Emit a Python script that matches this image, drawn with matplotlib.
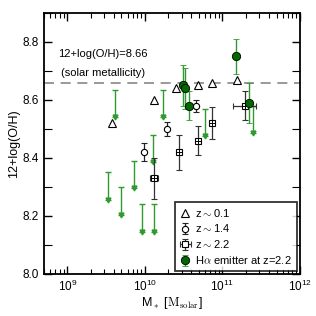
import numpy as np
import matplotlib.pyplot as plt
from matplotlib.ticker import MultipleLocator, LogLocator, NullFormatter

plt.rcParams['font.family'] = ['Liberation Sans', 'DejaVu Sans']
plt.rcParams['mathtext.fontset'] = 'cm'

SOLAR = 8.66

# z~0.1 (log M, 12+log(O/H))
z01_logm = [9.58, 10.12, 10.40, 10.68, 10.87, 11.19]
z01_oh = [8.52, 8.60, 8.64, 8.65, 8.66, 8.67]

# z~1.4
z14_logm = [9.99, 10.29, 10.66]
z14_oh = [8.42, 8.50, 8.58]
z14_err = [0.03, 0.025, 0.02]

# z~2.2
z22_logm = [10.12, 10.44, 10.68, 10.87, 11.29]
z22_oh = [8.33, 8.42, 8.46, 8.52, 8.58]
z22_yerr = [0.07, 0.06, 0.05, 0.055, 0.05]
z22_xerr = [0.05, 0.0, 0.0, 0.0, 0.15]

# H-alpha emitters at z=2.2
ha_logm = [10.49, 10.52, 10.57, 11.18, 11.35]
ha_oh = [8.65, 8.64, 8.58, 8.75, 8.59]
ha_err = [0.07, 0.07, 0.05, 0.06, 0.07]

# upper limits
ul_logm = [9.52, 9.62, 9.69, 9.86, 9.96, 10.10, 10.12, 10.23, 10.78, 11.40]
ul_oh = [8.35, 8.635, 8.30, 8.39, 8.24, 8.48, 8.24, 8.635, 8.57, 8.58]
ARROW = 0.095

green_bar = '#2f9a2f'
green_fill = '#006a00'

fig = plt.figure(figsize=(3.16, 3.16), dpi=100)
ax = fig.add_axes([0.139, 0.133, 0.81, 0.826])

ax.axhline(SOLAR, color='#888888', ls=(0, (6, 4)), lw=1.2, zorder=1)

# upper limits
ulm = 10 ** np.array(ul_logm)
ulo = np.array(ul_oh)
ax.errorbar(ulm, ulo, yerr=[np.full(len(ulo), ARROW), np.zeros(len(ulo))],
            fmt='none', ecolor=green_bar, elinewidth=1.0, capsize=2.5, capthick=1.0, zorder=2)
ax.plot(ulm, ulo - ARROW, 'v', color=green_bar, ms=3.5, ls='none', zorder=2)

ax.errorbar(10 ** np.array(z01_logm), z01_oh, fmt='^', mfc='white', mec='black',
            ms=5.5, mew=0.8, ls='none', zorder=3, label=r'z$\sim$0.1')
ax.errorbar(10 ** np.array(z14_logm), z14_oh, yerr=z14_err, fmt='o', mfc='white', mec='black',
            ecolor='#222222', ms=4.5, mew=0.8, elinewidth=0.9, capsize=2, zorder=3,
            label=r'z$\sim$1.4')

z22m = 10 ** np.array(z22_logm)
xe = np.array(z22_xerr)
ax.errorbar(z22m, z22_oh, yerr=z22_yerr,
            xerr=[z22m - z22m / 10 ** xe, z22m * 10 ** xe - z22m],
            fmt='s', mfc='white', mec='black', ecolor='#333333', ms=5, mew=0.8,
            elinewidth=0.9, capsize=2, zorder=3, label=r'z$\sim$2.2')
ax.plot(z22m, z22_oh, '+', color='black', ms=5, mew=0.7, ls='none', zorder=4)

ax.errorbar(10 ** np.array(ha_logm), ha_oh, yerr=ha_err, fmt='o', mfc=green_fill, mec='black',
            ecolor=green_bar, ms=6, mew=0.6, elinewidth=1.0, capsize=2.5, zorder=5,
            label=r'H$\alpha$ emitter at z=2.2')

ax.text(2.9e9, 8.757, '12+log(O/H)=8.66', ha='center', va='center', fontsize=8)
ax.text(2.9e9, 8.692, '(solar metallicity)', ha='center', va='center', fontsize=8)

ax.set_xscale('log')
ax.set_xlim(5e8, 1e12)
ax.set_ylim(8.0, 8.9)
ax.yaxis.set_major_locator(MultipleLocator(0.2))
ax.yaxis.set_minor_locator(MultipleLocator(0.1))
ax.xaxis.set_minor_locator(LogLocator(base=10, subs=np.arange(2, 10)))
ax.xaxis.set_minor_formatter(NullFormatter())
ax.tick_params(which='both', direction='in', top=True, right=True, labelsize=8.5)
ax.tick_params(which='major', length=6, width=1)
ax.tick_params(which='minor', length=3.5, width=0.8)
ax.tick_params(axis='y', which='minor', length=6)
for s in ax.spines.values():
    s.set_linewidth(1.3)

ax.set_ylabel('12+log(O/H)', fontsize=9, labelpad=2)
ax.set_xlabel(r'M$_*$ [$\mathrm{M_{solar}}$]', fontsize=9, labelpad=1)

leg = ax.legend(loc='lower right', fontsize=8, frameon=True, fancybox=False,
                edgecolor='black', handlelength=1.0, handletextpad=0.4,
                borderpad=0.4, labelspacing=0.35, borderaxespad=0.3)
leg.get_frame().set_linewidth(1.3)

fig.savefig('out.png', dpi=100)
